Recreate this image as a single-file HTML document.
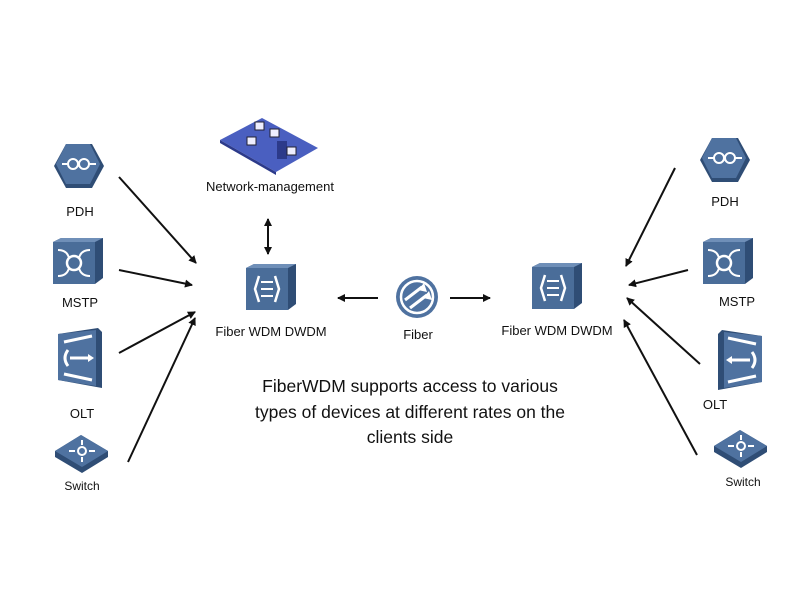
<!DOCTYPE html>
<html><head><meta charset="utf-8"><style>
html,body{margin:0;padding:0;background:#fff;width:800px;height:600px;overflow:hidden}
svg{display:block}
text{font-family:"Liberation Sans",sans-serif;fill:#111}
</style></head><body>
<svg width="800" height="600" viewBox="0 0 800 600" xmlns="http://www.w3.org/2000/svg">
<defs>
<marker id="ah" markerWidth="8" markerHeight="8" refX="7" refY="4" orient="auto-start-reverse" markerUnits="userSpaceOnUse">
<path d="M0,0 L8,4 L0,8 z" fill="#111"/></marker>
<g id="box">
 <path d="M0,4 L8,0 L50,0 L50,40 L42,46 L0,46 z" fill="#2f4d75"/>
 <path d="M0,4 L42,4 L42,46 L0,46 z" fill="#4a6d99"/>
 <path d="M0,4 L8,0 L50,0 L42,4 z" fill="#6f8fb8"/>
</g>
<g id="wdm">
 <use href="#box"/>
 <path d="M13,12 L9,25 L13,38" stroke="#fff" stroke-width="2.5" fill="none"/>
 <path d="M29,12 L33,25 L29,38" stroke="#fff" stroke-width="2.5" fill="none"/>
 <path d="M15,18 H27 M15,25 H27 M15,32 H27" stroke="#fff" stroke-width="2"/>
</g>
<g id="pdh">
 <path d="M12,0 L38,0 L50,22 L38,44 L12,44 L0,22 z" fill="#2f4d75"/>
 <path d="M12,0 L36,0 L46,20 L36,40 L12,40 L2,20 z" fill="#4f72a0"/>
 <circle cx="19" cy="20" r="5" stroke="#fff" stroke-width="2" fill="none"/>
 <circle cx="30" cy="20" r="5" stroke="#fff" stroke-width="2" fill="none"/>
 <path d="M8,20 H14 M35,20 H42" stroke="#fff" stroke-width="2"/>
</g>
<g id="mstp">
 <use href="#box"/>
 <circle cx="21" cy="25" r="7" stroke="#fff" stroke-width="2.5" fill="none"/>
 <path d="M5,12 Q14,12 16,20 M37,12 Q28,12 26,20 M5,38 Q14,38 16,30 M37,38 Q28,38 26,30" stroke="#fff" stroke-width="2" fill="none"/>
</g>
<g id="olt">
 <path d="M0,6 L40,0 L44,4 L44,60 L0,52 z" fill="#2f4d75"/>
 <path d="M0,6 L38,2 L38,58 L0,52 z" fill="#4f72a0"/>
 <path d="M6,14 L34,8 M6,46 L34,52" stroke="#fff" stroke-width="3"/>
 <path d="M10,22 Q4,30 10,38 M12,30 H32" stroke="#fff" stroke-width="3" fill="none"/>
 <path d="M30,26 L36,30 L30,34 z" fill="#fff"/>
</g>
<g id="sw">
 <path d="M0,16 L26,0 L53,16 L53,22 L27,38 L0,22 z" fill="#2f4d75"/>
 <path d="M0,16 L26,0 L53,16 L27,32 z" fill="#4f72a0"/>
 <circle cx="27" cy="16" r="4" fill="none" stroke="#fff" stroke-width="2"/>
 <path d="M27,5 V10 M27,22 V27 M14,16 H20 M34,16 H40" stroke="#fff" stroke-width="2"/>
</g>
</defs>

<use href="#pdh" x="54" y="144"/>
<text x="80" y="216" font-size="13" text-anchor="middle">PDH</text>
<use href="#mstp" x="53" y="238"/>
<text x="80" y="307" font-size="13" text-anchor="middle">MSTP</text>
<use href="#olt" x="58" y="328"/>
<text x="82" y="418" font-size="13" text-anchor="middle">OLT</text>
<use href="#sw" x="55" y="435"/>
<text x="82" y="490" font-size="12" text-anchor="middle">Switch</text>

<use href="#pdh" x="700" y="138"/>
<text x="725" y="206" font-size="13" text-anchor="middle">PDH</text>
<use href="#mstp" x="703" y="238"/>
<text x="737" y="306" font-size="13" text-anchor="middle">MSTP</text>
<g transform="translate(762,330) scale(-1,1)"><use href="#olt"/></g>
<text x="715" y="409" font-size="13" text-anchor="middle">OLT</text>
<use href="#sw" x="714" y="430"/>
<text x="743" y="486" font-size="12" text-anchor="middle">Switch</text>

<path d="M220,140 L262,118 L318,148 L276,172 z" fill="#4a5fc0"/>
<path d="M220,140 L276,172 L276,175 L220,143 z" fill="#2c3a8a"/>
<rect x="255" y="122" width="9" height="8" fill="#eef" stroke="#223"/>
<rect x="270" y="129" width="9" height="8" fill="#eef" stroke="#223"/>
<rect x="247" y="137" width="9" height="8" fill="#eef" stroke="#223"/>
<rect x="277" y="141" width="10" height="18" fill="#2c3a8a"/>
<rect x="287" y="147" width="9" height="8" fill="#eef" stroke="#223"/>
<text x="270" y="191" font-size="13" text-anchor="middle">Network-management</text>
<line x1="268" y1="219" x2="268" y2="254" stroke="#111" stroke-width="2" marker-start="url(#ah)" marker-end="url(#ah)"/>

<use href="#wdm" x="246" y="264"/>
<text x="271" y="336" font-size="13" text-anchor="middle">Fiber WDM DWDM</text>
<use href="#wdm" x="532" y="263"/>
<text x="557" y="335" font-size="13" text-anchor="middle">Fiber WDM DWDM</text>

<circle cx="417" cy="297" r="21" fill="#4f72a0"/>
<circle cx="417" cy="297" r="16" fill="none" stroke="#fff" stroke-width="2.5"/>
<path d="M405,300 L422,287 M410,308 L427,295" stroke="#fff" stroke-width="3"/>
<path d="M424,283 L427,292 L418,290 z M429,291 L432,300 L423,298 z" fill="#fff"/>
<text x="418" y="339" font-size="13" text-anchor="middle">Fiber</text>
<line x1="378" y1="298" x2="338" y2="298" stroke="#111" stroke-width="2" marker-end="url(#ah)"/>
<line x1="450" y1="298" x2="490" y2="298" stroke="#111" stroke-width="2" marker-end="url(#ah)"/>

<g stroke="#111" stroke-width="2" marker-end="url(#ah)">
<line x1="119" y1="177" x2="196" y2="263"/>
<line x1="119" y1="270" x2="192" y2="285"/>
<line x1="119" y1="353" x2="195" y2="312"/>
<line x1="128" y1="462" x2="195" y2="318"/>
<line x1="675" y1="168" x2="626" y2="266"/>
<line x1="688" y1="270" x2="629" y2="285"/>
<line x1="700" y1="364" x2="627" y2="298"/>
<line x1="697" y1="455" x2="624" y2="320"/>
</g>

<g text-anchor="middle" style="font-family:'DejaVu Sans','Liberation Sans',sans-serif" fill="#222">
<text x="410" y="392" font-size="17.5">FiberWDM supports access to various</text>
<text x="410" y="418" font-size="17.5">types of devices at different rates on the</text>
<text x="410" y="443" font-size="17.5">clients side</text>
</g>
</svg>
</body></html>
